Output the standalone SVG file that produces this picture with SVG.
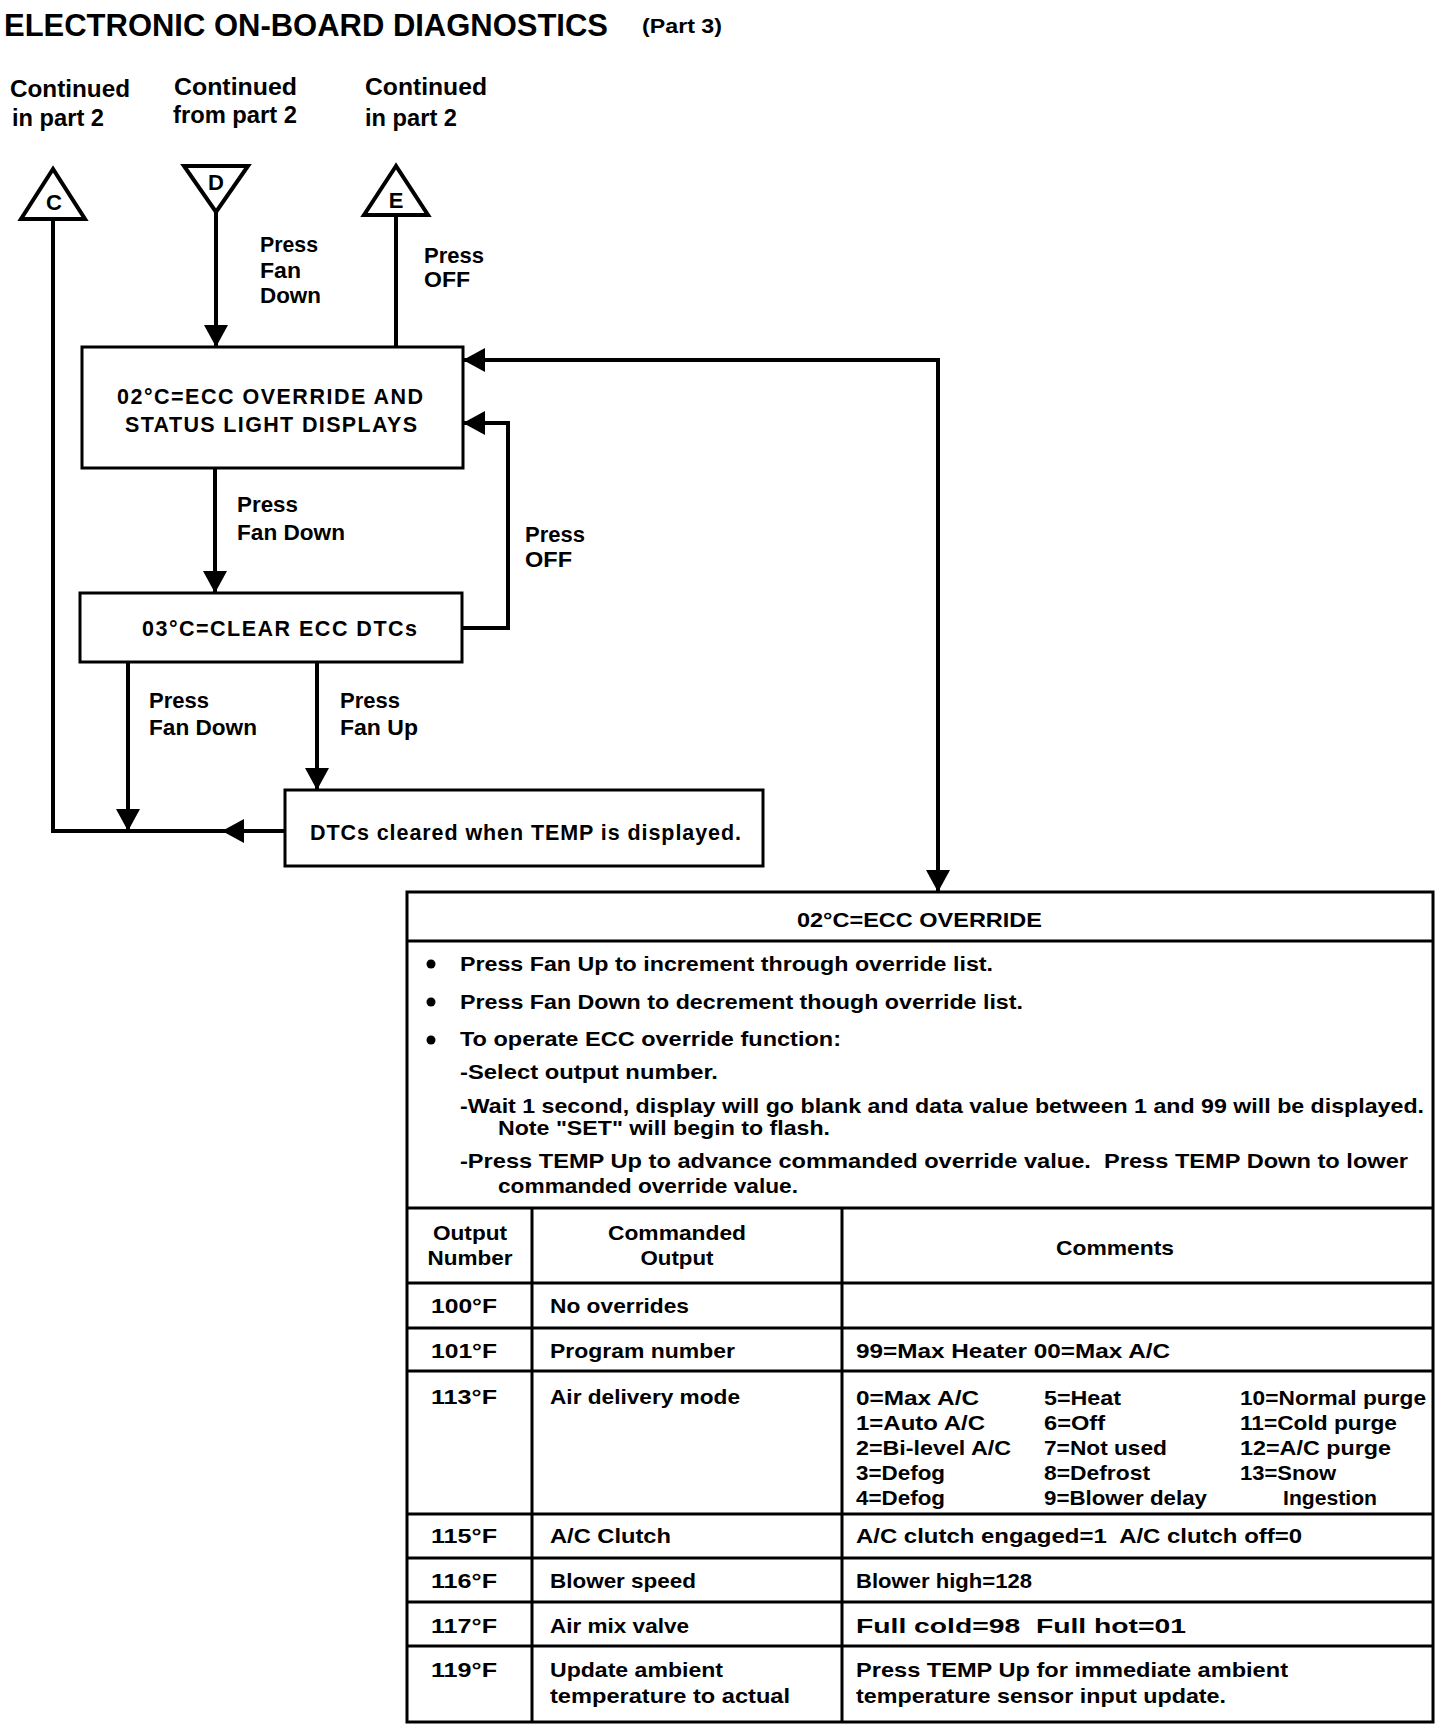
<svg xmlns="http://www.w3.org/2000/svg" width="1456" height="1732" viewBox="0 0 1456 1732">
<style>
text{font-family:"Liberation Sans",Arial,Helvetica,sans-serif;font-weight:bold;fill:#000}
.s20{font-size:20.5px}
.s22{font-size:22px}
.s24{font-size:24px}
.bx{font-size:21.5px}
.ln{stroke:#000;stroke-width:4;fill:none}
.box{stroke:#000;stroke-width:3;fill:#fff}
.tri{stroke:#000;stroke-width:4;fill:#fff;stroke-linejoin:miter}
.tl{stroke:#000;stroke-width:3;fill:none}
.m{text-anchor:middle}
</style>
<defs>
<marker id="ah" markerUnits="userSpaceOnUse" markerWidth="24" markerHeight="24" refX="22" refY="12" orient="auto">
<path d="M0,0 L22,12 L0,24 Z" fill="#000"/>
</marker>
</defs>
<rect width="1456" height="1732" fill="#fff"/>

<g id="title">
<text x="4" y="36" font-size="32" textLength="604" lengthAdjust="spacingAndGlyphs">ELECTRONIC ON-BOARD DIAGNOSTICS</text>
<text x="642" y="33" font-size="21" textLength="80" lengthAdjust="spacingAndGlyphs">(Part 3)</text>
</g>

<g id="continuation-labels">
<text class="s24" x="10" y="97" textLength="120" lengthAdjust="spacingAndGlyphs">Continued</text>
<text class="s24" x="12" y="126" textLength="92" lengthAdjust="spacingAndGlyphs">in part 2</text>
<text class="s24" x="174" y="95" textLength="123" lengthAdjust="spacingAndGlyphs">Continued</text>
<text class="s24" x="173" y="123" textLength="124" lengthAdjust="spacingAndGlyphs">from part 2</text>
<text class="s24" x="365" y="95" textLength="122" lengthAdjust="spacingAndGlyphs">Continued</text>
<text class="s24" x="365" y="126" textLength="92" lengthAdjust="spacingAndGlyphs">in part 2</text>
</g>

<g id="connectors">
<path class="ln" d="M216,212 L216,347" marker-end="url(#ah)"/>
<path class="ln" d="M396,347 L396,215"/>
<path class="ln" d="M215,468 L215,593" marker-end="url(#ah)"/>
<path class="ln" d="M462,628 L508,628 L508,423 L463,423" marker-end="url(#ah)"/>
<path class="ln" d="M938,360 L463,360" marker-end="url(#ah)"/>
<path class="ln" d="M938,358 L938,892" marker-end="url(#ah)"/>
<path class="ln" d="M128,662 L128,831" marker-end="url(#ah)"/>
<path class="ln" d="M317,662 L317,790" marker-end="url(#ah)"/>
<path class="ln" d="M285,831 L222,831" marker-end="url(#ah)"/>
<path class="ln" d="M226,831 L53,831 L53,219"/>
<text class="s22" x="260" y="252" textLength="58" lengthAdjust="spacingAndGlyphs">Press</text>
<text class="s22" x="260" y="278" textLength="41" lengthAdjust="spacingAndGlyphs">Fan</text>
<text class="s22" x="260" y="303" textLength="61" lengthAdjust="spacingAndGlyphs">Down</text>
<text class="s22" x="424" y="263" textLength="60" lengthAdjust="spacingAndGlyphs">Press</text>
<text class="s22" x="424" y="287" textLength="46" lengthAdjust="spacingAndGlyphs">OFF</text>
<text class="s22" x="237" y="512" textLength="61" lengthAdjust="spacingAndGlyphs">Press</text>
<text class="s22" x="237" y="540" textLength="108" lengthAdjust="spacingAndGlyphs">Fan Down</text>
<text class="s22" x="525" y="542" textLength="60" lengthAdjust="spacingAndGlyphs">Press</text>
<text class="s22" x="525" y="567" textLength="47" lengthAdjust="spacingAndGlyphs">OFF</text>
<text class="s22" x="149" y="708" textLength="60" lengthAdjust="spacingAndGlyphs">Press</text>
<text class="s22" x="149" y="735" textLength="108" lengthAdjust="spacingAndGlyphs">Fan Down</text>
<text class="s22" x="340" y="708" textLength="60" lengthAdjust="spacingAndGlyphs">Press</text>
<text class="s22" x="340" y="735" textLength="78" lengthAdjust="spacingAndGlyphs">Fan Up</text>
</g>

<g id="node-C">
<polygon class="tri" points="53,169 21,219 85,219"/>
<text class="s22 m" x="54" y="210">C</text>
</g>
<g id="node-D">
<polygon class="tri" points="184,166 248,166 216,212"/>
<text class="s22 m" x="216" y="190">D</text>
</g>
<g id="node-E">
<polygon class="tri" points="396,166 364,215 428,215"/>
<text class="s22 m" x="396" y="208">E</text>
</g>

<g id="node-override-status">
<rect class="box" x="82" y="347" width="381" height="121"/>
<text class="bx" x="117" y="404" textLength="306" lengthAdjust="spacing">02°C=ECC OVERRIDE AND</text>
<text class="bx" x="125" y="432" textLength="292" lengthAdjust="spacing">STATUS LIGHT DISPLAYS</text>
</g>

<g id="node-clear-dtcs">
<rect class="box" x="80" y="593" width="382" height="69"/>
<text class="bx" x="142" y="636" textLength="275" lengthAdjust="spacing">03°C=CLEAR ECC DTCs</text>
</g>

<g id="node-dtcs-cleared">
<rect class="box" x="285" y="790" width="478" height="76"/>
<text class="bx" x="310" y="840" textLength="431" lengthAdjust="spacing">DTCs cleared when TEMP is displayed.</text>
</g>

<g id="node-override-table">
<rect class="tl" x="407" y="892" width="1026" height="830" fill="#fff"/>
<line class="tl" x1="407" y1="941" x2="1433" y2="941"/>
<line class="tl" x1="407" y1="1208" x2="1433" y2="1208"/>
<line class="tl" x1="407" y1="1283" x2="1433" y2="1283"/>
<line class="tl" x1="407" y1="1328" x2="1433" y2="1328"/>
<line class="tl" x1="407" y1="1371" x2="1433" y2="1371"/>
<line class="tl" x1="407" y1="1514" x2="1433" y2="1514"/>
<line class="tl" x1="407" y1="1558" x2="1433" y2="1558"/>
<line class="tl" x1="407" y1="1602" x2="1433" y2="1602"/>
<line class="tl" x1="407" y1="1646" x2="1433" y2="1646"/>
<line class="tl" x1="532" y1="1208" x2="532" y2="1722"/>
<line class="tl" x1="842" y1="1208" x2="842" y2="1722"/>

<text class="s20" x="797" y="927" textLength="245" lengthAdjust="spacingAndGlyphs">02°C=ECC OVERRIDE</text>

<circle cx="431" cy="964" r="4.5"/>
<circle cx="431" cy="1002" r="4.5"/>
<circle cx="431" cy="1040" r="4.5"/>
<text class="s20" x="460" y="971" textLength="533" lengthAdjust="spacingAndGlyphs">Press Fan Up to increment through override list.</text>
<text class="s20" x="460" y="1009" textLength="563" lengthAdjust="spacingAndGlyphs">Press Fan Down to decrement though override list.</text>
<text class="s20" x="460" y="1046" textLength="381" lengthAdjust="spacingAndGlyphs">To operate ECC override function:</text>
<text class="s20" x="460" y="1079" textLength="258" lengthAdjust="spacingAndGlyphs">-Select output number.</text>
<text class="s20" x="460" y="1113" textLength="964" lengthAdjust="spacingAndGlyphs">-Wait 1 second, display will go blank and data value between 1 and 99 will be displayed.</text>
<text class="s20" x="498" y="1135" textLength="332" lengthAdjust="spacingAndGlyphs">Note "SET" will begin to flash.</text>
<text class="s20" x="460" y="1168" textLength="948" lengthAdjust="spacingAndGlyphs" xml:space="preserve">-Press TEMP Up to advance commanded override value.  Press TEMP Down to lower</text>
<text class="s20" x="498" y="1193" textLength="300" lengthAdjust="spacingAndGlyphs">commanded override value.</text>

<text class="s20 m" x="470" y="1240" textLength="74" lengthAdjust="spacingAndGlyphs">Output</text>
<text class="s20 m" x="470" y="1265" textLength="85" lengthAdjust="spacingAndGlyphs">Number</text>
<text class="s20 m" x="677" y="1240" textLength="138" lengthAdjust="spacingAndGlyphs">Commanded</text>
<text class="s20 m" x="677" y="1265" textLength="73" lengthAdjust="spacingAndGlyphs">Output</text>
<text class="s20 m" x="1115" y="1255" textLength="118" lengthAdjust="spacingAndGlyphs">Comments</text>

<text class="s20" x="431" y="1313" textLength="66" lengthAdjust="spacingAndGlyphs">100°F</text>
<text class="s20" x="550" y="1313" textLength="139" lengthAdjust="spacingAndGlyphs">No overrides</text>

<text class="s20" x="431" y="1358" textLength="66" lengthAdjust="spacingAndGlyphs">101°F</text>
<text class="s20" x="550" y="1358" textLength="185" lengthAdjust="spacingAndGlyphs">Program number</text>
<text class="s20" x="856" y="1358" textLength="314" lengthAdjust="spacingAndGlyphs">99=Max Heater 00=Max A/C</text>

<text class="s20" x="431" y="1404" textLength="66" lengthAdjust="spacingAndGlyphs">113°F</text>
<text class="s20" x="550" y="1404" textLength="190" lengthAdjust="spacingAndGlyphs">Air delivery mode</text>
<text class="s20" x="856" y="1405" textLength="123" lengthAdjust="spacingAndGlyphs">0=Max A/C</text>
<text class="s20" x="856" y="1430" textLength="129" lengthAdjust="spacingAndGlyphs">1=Auto A/C</text>
<text class="s20" x="856" y="1455" textLength="155" lengthAdjust="spacingAndGlyphs">2=Bi-level A/C</text>
<text class="s20" x="856" y="1480" textLength="89" lengthAdjust="spacingAndGlyphs">3=Defog</text>
<text class="s20" x="856" y="1505" textLength="89" lengthAdjust="spacingAndGlyphs">4=Defog</text>
<text class="s20" x="1044" y="1405" textLength="77" lengthAdjust="spacingAndGlyphs">5=Heat</text>
<text class="s20" x="1044" y="1430" textLength="61" lengthAdjust="spacingAndGlyphs">6=Off</text>
<text class="s20" x="1044" y="1455" textLength="123" lengthAdjust="spacingAndGlyphs">7=Not used</text>
<text class="s20" x="1044" y="1480" textLength="106" lengthAdjust="spacingAndGlyphs">8=Defrost</text>
<text class="s20" x="1044" y="1505" textLength="163" lengthAdjust="spacingAndGlyphs">9=Blower delay</text>
<text class="s20" x="1240" y="1405" textLength="186" lengthAdjust="spacingAndGlyphs">10=Normal purge</text>
<text class="s20" x="1240" y="1430" textLength="157" lengthAdjust="spacingAndGlyphs">11=Cold purge</text>
<text class="s20" x="1240" y="1455" textLength="151" lengthAdjust="spacingAndGlyphs">12=A/C purge</text>
<text class="s20" x="1240" y="1480" textLength="96" lengthAdjust="spacingAndGlyphs">13=Snow</text>
<text class="s20" x="1283" y="1505" textLength="94" lengthAdjust="spacingAndGlyphs">Ingestion</text>

<text class="s20" x="431" y="1543" textLength="66" lengthAdjust="spacingAndGlyphs">115°F</text>
<text class="s20" x="550" y="1543" textLength="121" lengthAdjust="spacingAndGlyphs">A/C Clutch</text>
<text class="s20" x="856" y="1543" textLength="446" lengthAdjust="spacingAndGlyphs" xml:space="preserve">A/C clutch engaged=1  A/C clutch off=0</text>

<text class="s20" x="431" y="1588" textLength="66" lengthAdjust="spacingAndGlyphs">116°F</text>
<text class="s20" x="550" y="1588" textLength="146" lengthAdjust="spacingAndGlyphs">Blower speed</text>
<text class="s20" x="856" y="1588" textLength="176" lengthAdjust="spacingAndGlyphs">Blower high=128</text>

<text class="s20" x="431" y="1633" textLength="66" lengthAdjust="spacingAndGlyphs">117°F</text>
<text class="s20" x="550" y="1633" textLength="139" lengthAdjust="spacingAndGlyphs">Air mix valve</text>
<text class="s20" x="856" y="1633" textLength="330" lengthAdjust="spacingAndGlyphs" xml:space="preserve">Full cold=98  Full hot=01</text>

<text class="s20" x="431" y="1677" textLength="66" lengthAdjust="spacingAndGlyphs">119°F</text>
<text class="s20" x="550" y="1677" textLength="173" lengthAdjust="spacingAndGlyphs">Update ambient</text>
<text class="s20" x="550" y="1703" textLength="240" lengthAdjust="spacingAndGlyphs">temperature to actual</text>
<text class="s20" x="856" y="1677" textLength="432" lengthAdjust="spacingAndGlyphs">Press TEMP Up for immediate ambient</text>
<text class="s20" x="856" y="1703" textLength="370" lengthAdjust="spacingAndGlyphs">temperature sensor input update.</text>
</g>
</svg>
